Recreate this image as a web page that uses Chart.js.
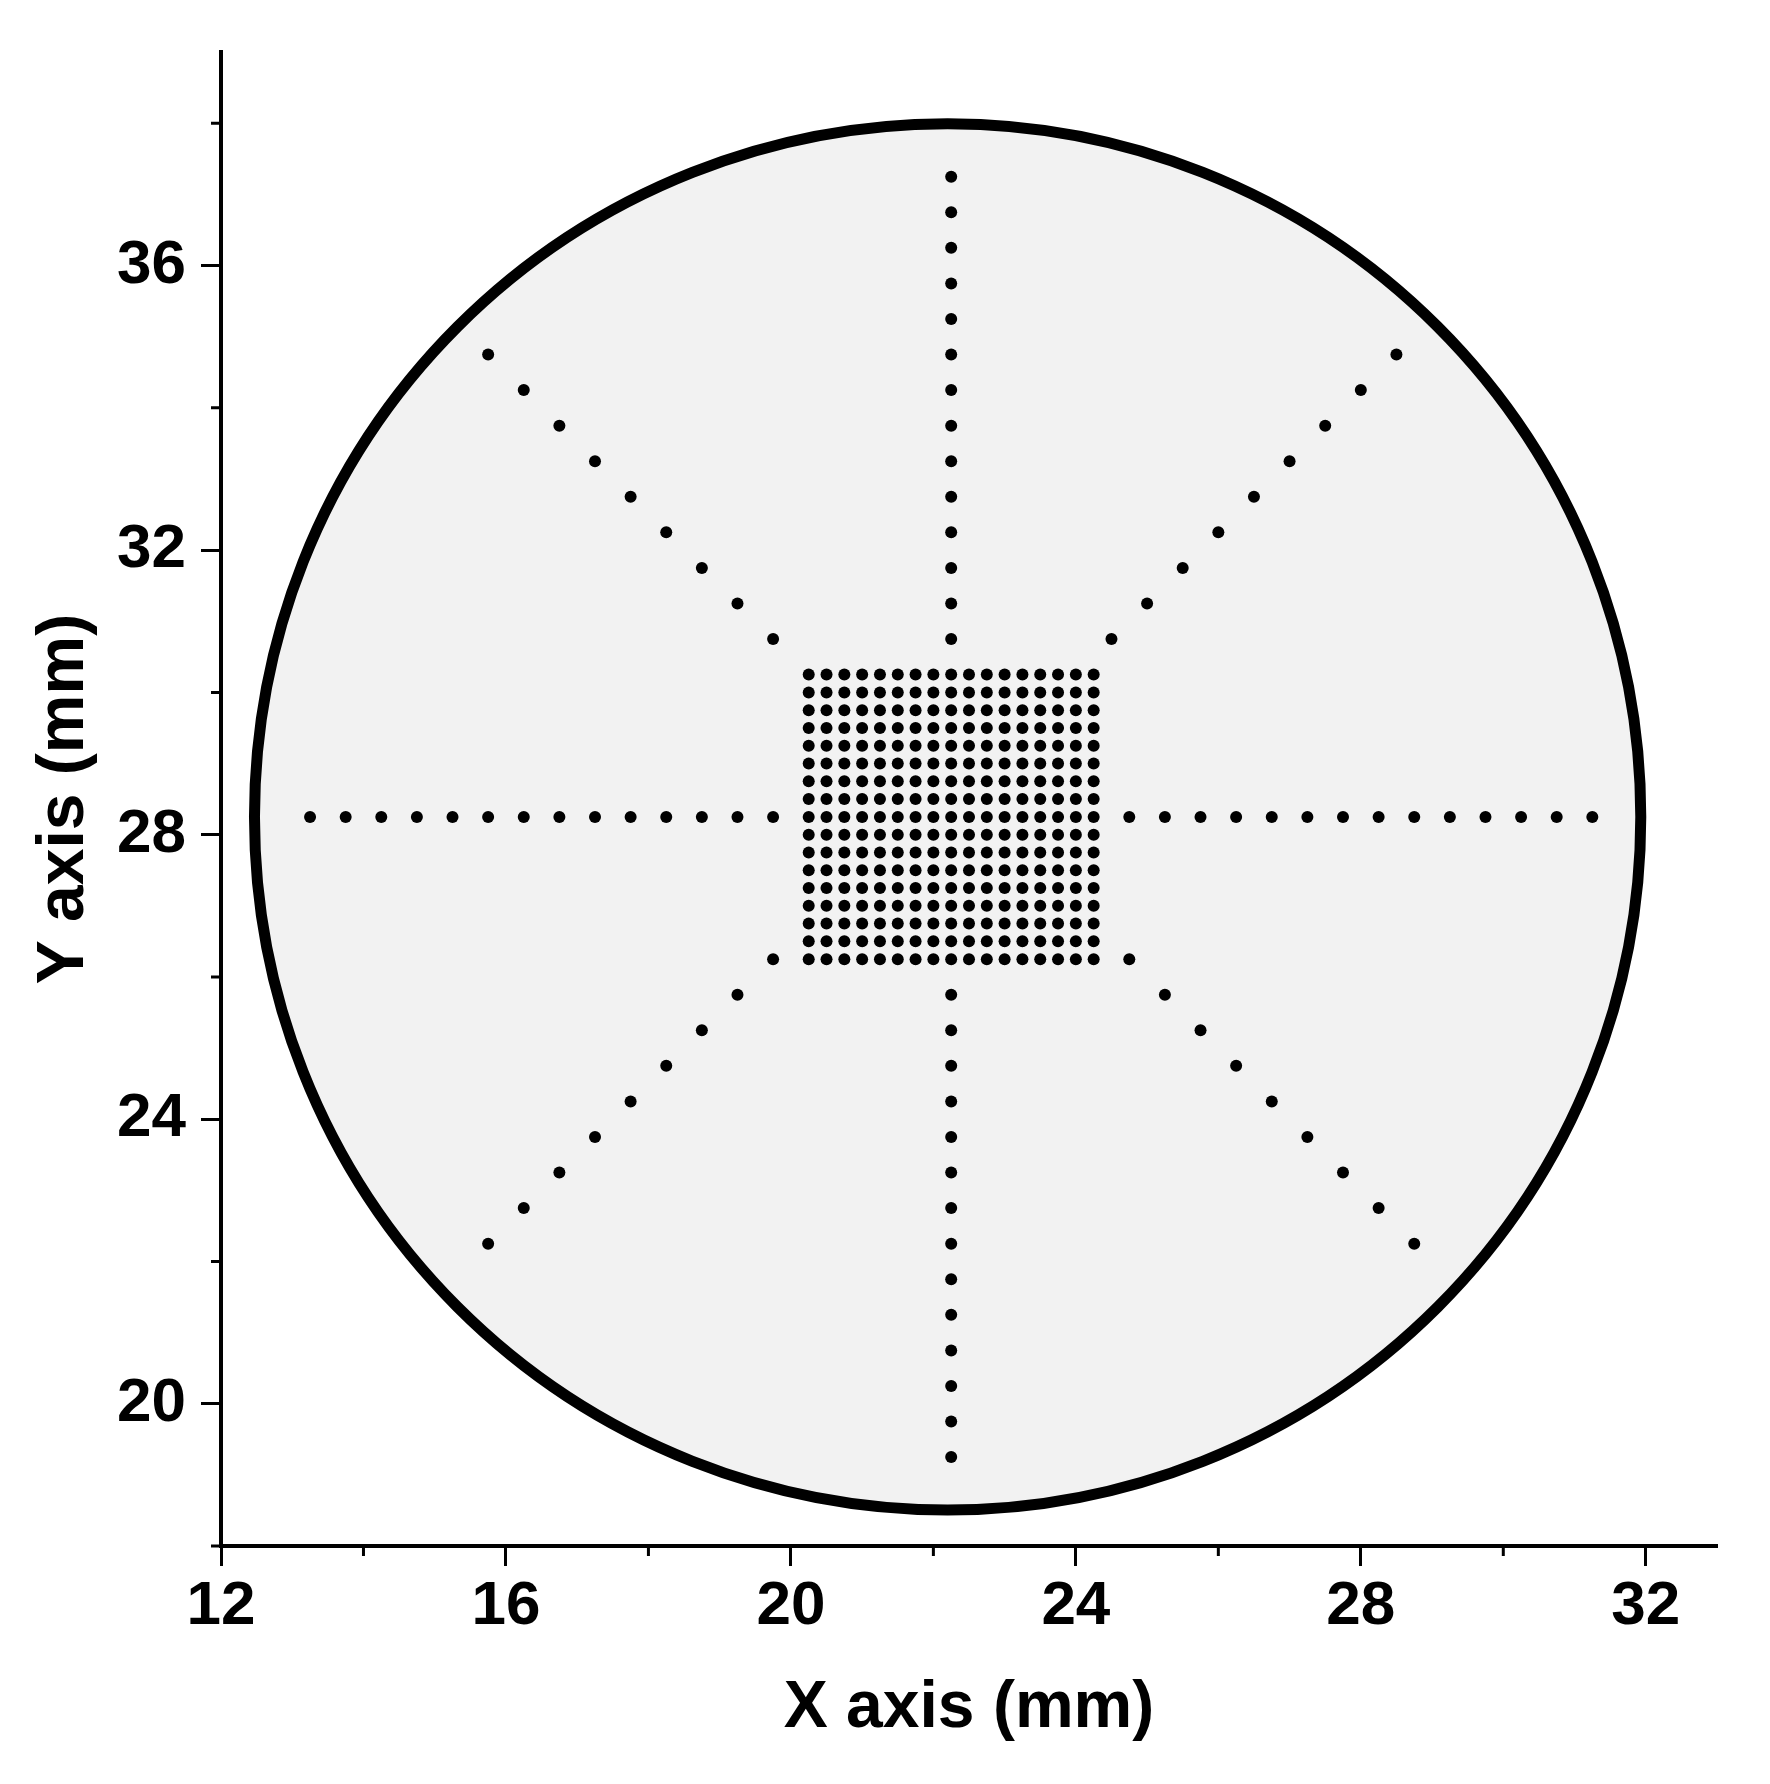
<!DOCTYPE html>
<html>
<head>
<meta charset="utf-8">
<script src="https://cdn.jsdelivr.net/npm/chart.js@4.4.1/dist/chart.umd.min.js"></script>
<style>
  body { margin: 0; background: #fff; }
  canvas { display: block; }
</style>
</head>
<body>
<canvas id="wafer-map" width="1770" height="1784"></canvas>
<script>
// axis ticks
const xMajorTicks = [12, 16, 20, 24, 28, 32];
const xMinorTicks = [14, 18, 22, 26, 30];
const yMajorTicks = [20, 24, 28, 32, 36];
const yMinorTicks = [18, 22, 26, 30, 34, 38];

// wafer outline (mm)
const waferCenter = [22.2, 28.25];
const waferRadius = 9.73;

// central dense grid (mm)
const gridX = [20.25, 20.5, 20.75, 21, 21.25, 21.5, 21.75, 22, 22.25, 22.5, 22.75, 23, 23.25, 23.5, 23.75, 24, 24.25];
const gridY = [26.25, 26.5, 26.75, 27, 27.25, 27.5, 27.75, 28, 28.25, 28.5, 28.75, 29, 29.25, 29.5, 29.75, 30, 30.25];

// horizontal arms
const rowY = 28.25;
const rowLeftX = [13.25, 13.75, 14.25, 14.75, 15.25, 15.75, 16.25, 16.75, 17.25, 17.75, 18.25, 18.75, 19.25, 19.75];
const rowRightX = [24.75, 25.25, 25.75, 26.25, 26.75, 27.25, 27.75, 28.25, 28.75, 29.25, 29.75, 30.25, 30.75, 31.25];

// vertical arms
const colX = 22.25;
const colTopY = [30.75, 31.25, 31.75, 32.25, 32.75, 33.25, 33.75, 34.25, 34.75, 35.25, 35.75, 36.25, 36.75, 37.25];
const colBottomY = [19.25, 19.75, 20.25, 20.75, 21.25, 21.75, 22.25, 22.75, 23.25, 23.75, 24.25, 24.75, 25.25, 25.75];

// diagonal arms
const upLeftX = [15.75, 16.25, 16.75, 17.25, 17.75, 18.25, 18.75, 19.25, 19.75];
const upLeftY = [34.75, 34.25, 33.75, 33.25, 32.75, 32.25, 31.75, 31.25, 30.75];
const upRightX = [24.5, 25, 25.5, 26, 26.5, 27, 27.5, 28, 28.5];
const upRightY = [30.75, 31.25, 31.75, 32.25, 32.75, 33.25, 33.75, 34.25, 34.75];
const lowLeftX = [15.75, 16.25, 16.75, 17.25, 17.75, 18.25, 18.75, 19.25, 19.75];
const lowLeftY = [22.25, 22.75, 23.25, 23.75, 24.25, 24.75, 25.25, 25.75, 26.25];
const lowRightX = [24.75, 25.25, 25.75, 26.25, 26.75, 27.25, 27.75, 28.25, 28.75];
const lowRightY = [26.25, 25.75, 25.25, 24.75, 24.25, 23.75, 23.25, 22.75, 22.25];

// build point tables
const gridPts = [];
gridY.forEach(y => gridX.forEach(x => gridPts.push({x: x, y: y})));
const rowPts = rowLeftX.concat(rowRightX).map(x => ({x: x, y: rowY}));
const colPts = colBottomY.concat(colTopY).map(y => ({x: colX, y: y}));
const zip = (xs, ys) => xs.map((x, i) => ({x: x, y: ys[i]}));
const diagPts = zip(upLeftX, upLeftY)
  .concat(zip(upRightX, upRightY))
  .concat(zip(lowLeftX, lowLeftY))
  .concat(zip(lowRightX, lowRightY));

const FONT = '"Liberation Sans", Arial, Helvetica, sans-serif';

const waferPlugin = {
  id: 'wafer',
  beforeDatasetsDraw(chart) {
    const x = chart.scales.x, y = chart.scales.y, ctx = chart.ctx;
    const cx = x.getPixelForValue(waferCenter[0]);
    const cy = y.getPixelForValue(waferCenter[1]);
    const r = x.getPixelForValue(waferCenter[0] + waferRadius) - cx;
    ctx.save();
    ctx.beginPath();
    ctx.arc(cx, cy, r, 0, Math.PI * 2);
    ctx.fillStyle = '#f2f2f2';
    ctx.fill();
    ctx.lineWidth = 11;
    ctx.strokeStyle = '#000';
    ctx.stroke();
    ctx.restore();
  }
};

const minorTickPlugin = {
  id: 'minorTicks',
  afterDraw(chart) {
    const x = chart.scales.x, y = chart.scales.y, ctx = chart.ctx;
    const area = chart.chartArea;
    ctx.save();
    ctx.strokeStyle = '#000';
    ctx.lineWidth = 3;
    ctx.beginPath();
    xMinorTicks.forEach(v => {
      const px = x.getPixelForValue(v);
      ctx.moveTo(px, area.bottom);
      ctx.lineTo(px, area.bottom + 10);
    });
    yMinorTicks.forEach(v => {
      const py = y.getPixelForValue(v);
      ctx.moveTo(area.left, py);
      ctx.lineTo(area.left - 10, py);
    });
    ctx.stroke();
    ctx.restore();
  }
};

const dotStyle = {
  showLine: false,
  pointRadius: 6,
  pointBorderWidth: 0,
  pointBackgroundColor: '#000',
  backgroundColor: '#000'
};

const ctx = document.getElementById('wafer-map');
const chart = new Chart(ctx, {
  type: 'scatter',
  data: {
    datasets: [
      Object.assign({label: 'grid', data: gridPts}, dotStyle),
      Object.assign({label: 'row', data: rowPts}, dotStyle),
      Object.assign({label: 'column', data: colPts}, dotStyle),
      Object.assign({label: 'diagonal', data: diagPts}, dotStyle)
    ]
  },
  options: {
    responsive: false,
    devicePixelRatio: 1,
    animation: false,
    layout: { padding: { top: 52, right: 53, left: 0, bottom: 0 } },
    plugins: {
      legend: { display: false },
      tooltip: { enabled: false }
    },
    scales: {
      x: {
        type: 'linear',
        min: 12,
        max: 33,
        afterBuildTicks: s => { s.ticks = xMajorTicks.map(v => ({value: v})); },
        afterFit: s => { s.height = 238; },
        border: { display: true, color: '#000', width: 4 },
        grid: { drawOnChartArea: false, drawTicks: true, tickLength: 20, tickColor: '#000', tickWidth: 3 },
        ticks: { color: '#000', padding: 4, maxRotation: 0, font: { family: FONT, size: 62, weight: 'bold' } },
        title: {
          display: true,
          text: 'X axis (mm)',
          color: '#000',
          padding: { top: 0, bottom: 36 },
          font: { family: FONT, size: 66, weight: 'bold' }
        }
      },
      y: {
        type: 'linear',
        min: 18,
        max: 39,
        afterBuildTicks: s => { s.ticks = yMajorTicks.map(v => ({value: v})); },
        afterFit: s => { s.width = 221; },
        border: { display: true, color: '#000', width: 4 },
        grid: { drawOnChartArea: false, drawTicks: true, tickLength: 20, tickColor: '#000', tickWidth: 3 },
        ticks: { color: '#000', padding: 15, font: { family: FONT, size: 62, weight: 'bold' } },
        title: {
          display: true,
          text: 'Y axis (mm)',
          color: '#000',
          padding: { top: 25, bottom: 0 },
          font: { family: FONT, size: 66, weight: 'bold' }
        }
      }
    }
  },
  plugins: [waferPlugin, minorTickPlugin]
});
</script>
</body>
</html>
